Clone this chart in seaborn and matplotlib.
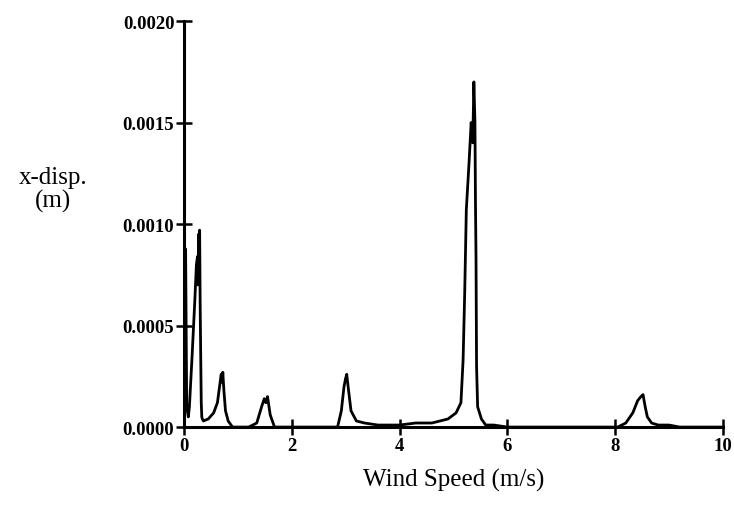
import matplotlib
matplotlib.use("Agg")
import matplotlib.pyplot as plt
import seaborn as sns
import pandas as pd
from matplotlib.ticker import FormatStrFormatter

# Data
wind_speed = [0.00, 0.02, 0.03, 0.05, 0.08, 0.10, 0.15, 0.20, 0.23, 0.25, 0.26, 0.27,
              0.28, 0.29, 0.30, 0.31, 0.32, 0.33, 0.34, 0.36, 0.45, 0.55, 0.62, 0.66,
              0.69, 0.71, 0.72, 0.74, 0.77, 0.82, 0.90, 1.20, 1.35, 1.44, 1.49, 1.52,
              1.55, 1.60, 1.68, 2.50, 2.85, 2.92, 2.97, 3.00, 3.02, 3.05, 3.10, 3.20,
              3.35, 3.60, 4.00, 4.30, 4.60, 4.90, 5.05, 5.14, 5.18, 5.21, 5.24, 5.29,
              5.33, 5.36, 5.38, 5.40, 5.41, 5.42, 5.43, 5.45, 5.52, 5.60, 5.75,
              6.00, 7.50, 8.05, 8.20, 8.33, 8.42, 8.48, 8.52, 8.56, 8.60, 8.68, 8.80,
              9.00, 9.20, 10.00]
x_disp = [0.0, 0.00088, 0.00086, 0.00010, 0.00005, 0.00010, 0.00035, 0.00062, 0.00080,
          0.00084, 0.00070, 0.00095, 0.00075, 0.00097, 0.00060, 0.00035, 0.00012,
          0.00005, 0.00004, 0.00003, 0.00004, 0.00007, 0.00012, 0.00020, 0.00026,
          0.00022, 0.00027, 0.00018, 0.00008, 0.00003, 0.0, 0.0, 0.00002, 0.00010,
          0.00014, 0.00012, 0.00015, 0.00006, 0.0, 0.0, 0.0, 0.00008, 0.00020,
          0.00024, 0.00026, 0.00019, 0.00008, 0.00003, 0.00002, 0.00001, 0.00001,
          0.00002, 0.00002, 0.00004, 0.00007, 0.00012, 0.00033, 0.00066, 0.00107,
          0.00130, 0.00150, 0.00140, 0.00170, 0.00150, 0.00110, 0.00083, 0.00030,
          0.00010, 0.00004, 0.00001, 0.00001, 0.0, 0.0, 0.0, 0.00002,
          0.00007, 0.00013, 0.00015, 0.00016, 0.00010, 0.00005, 0.00002, 0.00001,
          0.00001, 0.0, 0.0]

x_ticks = [0, 2, 4, 6, 8, 10]
y_ticks = [0.0, 0.0005, 0.0010, 0.0015, 0.0020]

df = pd.DataFrame({"speed": wind_speed, "disp": x_disp})

sns.set_style("ticks")
plt.rcParams["font.family"] = ["Liberation Serif", "DejaVu Serif"]
plt.rcParams["text.color"] = "black"
plt.rcParams["axes.labelcolor"] = "black"

fig = plt.figure(figsize=(7.34, 5.06), dpi=100)
ax = fig.add_axes([0.2507, 0.154, 0.734, 0.8025])

sns.lineplot(data=df, x="speed", y="disp", ax=ax, color="black", linewidth=2.0,
             sort=False, estimator=None)

ax.set_xlim(0, 10)
ax.set_ylim(0, 0.002)
ax.set_xticks(x_ticks)
ax.set_yticks(y_ticks)
ax.yaxis.set_major_formatter(FormatStrFormatter("%.4f"))
ax.tick_params(direction="inout", length=12, width=1.8, labelsize=13.5,
               colors="black")
ax.tick_params(axis="y", pad=1)
ax.tick_params(axis="x", pad=1)
for lab in ax.get_xticklabels() + ax.get_yticklabels():
    lab.set_fontweight("bold")
for side in ["top", "right"]:
    ax.spines[side].set_visible(False)
for side in ["left", "bottom"]:
    ax.spines[side].set_linewidth(2.2)
    ax.spines[side].set_color("black")

ax.set_xlabel("Wind Speed (m/s)", fontsize=18, labelpad=10, color="black")
ax.set_ylabel("")
fig.text(0.072, 0.625, "x-disp.\n(m)", fontsize=18, ha="center", va="center",
         linespacing=1.05, color="black")

fig.savefig("out.png", dpi=100, facecolor="white")
